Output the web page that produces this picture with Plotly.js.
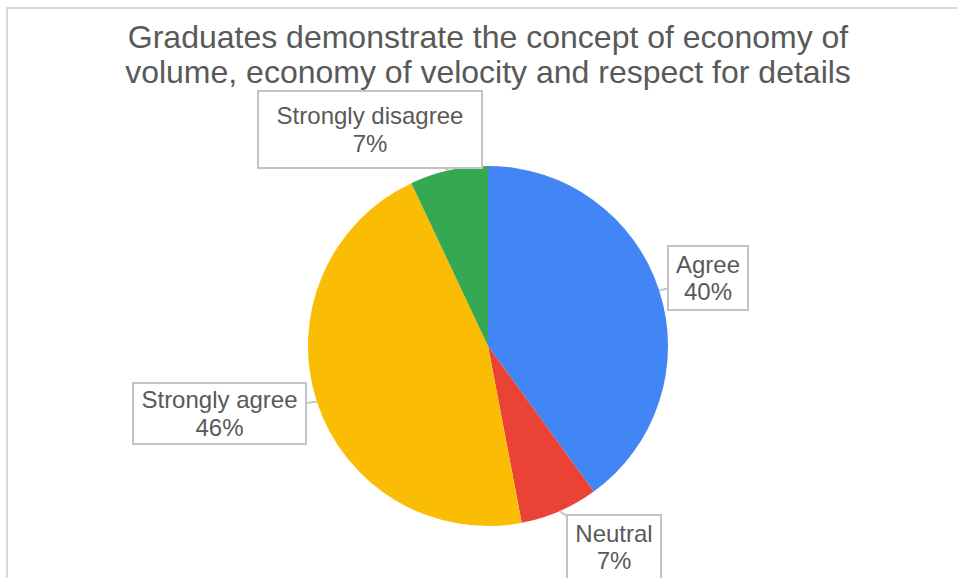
<!DOCTYPE html>
<html>
<head>
<meta charset="utf-8">
<script src="https://cdn.plot.ly/plotly-3.0.1.min.js"></script>
<style>
  html, body { margin: 0; padding: 0; background: #ffffff; }
  #chart { position: absolute; left: 0; top: 0; width: 957px; height: 578px; }
  #frame { position: absolute; left: 6px; top: 7px; width: 1000px; height: 700px;
           border-top: 2px solid #d9d9d9; border-left: 2px solid #d9d9d9;
           pointer-events: none; z-index: 5; }
</style>
</head>
<body>
<div id="chart"></div>
<div id="frame"></div>
<script>
// ---- data ----
const categories = ["Agree", "Neutral", "Strongly agree", "Strongly disagree"];
const percentValues = [40, 7, 46, 7];
const percentLabels = ["40%", "7%", "46%", "7%"];
const sliceColors = ["#4285F4", "#EA4335", "#FBBC04", "#34A853"];
const titleLines = ["Graduates demonstrate the concept of economy of",
                    "volume, economy of velocity and respect for details"];

// ---- layout / style constants ----
const W = 957, H = 578;
const CX = 488, CY = 346, R = 180;                 // pie centre & radius (px)
const labelOffsets = [[49, -12], [55, 36], [-97, 12], [-79, -41]]; // box offset from slice edge (px)
const boxSizes = [[78, 62], [92, 62], [171, 59], [222, 75]];       // label box sizes (px)
const textColor = "#595959";
const fontFamily = "'Liberation Sans', Arial, Helvetica, sans-serif";

const domainX = [(CX - R) / W, (CX + R) / W];
const domainY = [1 - (CY + R) / H, 1 - (CY - R) / H];

const trace = {
  type: "pie",
  labels: categories,
  values: percentValues,
  sort: false,
  direction: "clockwise",
  rotation: 0,
  textinfo: "none",
  hoverinfo: "label+percent",
  marker: { colors: sliceColors, line: { width: 0 } },
  domain: { x: domainX, y: domainY },
  showlegend: false
};

const big = (s, px) => '<span style="font-size:' + px + 'px">' + s + '</span>';

// annotation positions derived from the slice angles
const total = percentValues.reduce((a, b) => a + b, 0);
let cum = 0;
const annotations = categories.map((cat, i) => {
  const start = cum / total * 2 * Math.PI;
  cum += percentValues[i];
  const end = cum / total * 2 * Math.PI;
  const mid = (start + end) / 2;
  const px = CX + R * Math.sin(mid);
  const py = CY - R * Math.cos(mid);
  return {
    xref: "paper", yref: "paper",
    x: px / W, y: 1 - py / H,
    text: big(cat, 24) + "<br>" + big(percentLabels[i], 24),
    showarrow: true,
    arrowhead: 0,
    arrowwidth: 2,
    arrowcolor: "#c4c4c4",
    standoff: 0,
    ax: labelOffsets[i][0],
    ay: labelOffsets[i][1],
    width: boxSizes[i][0],
    height: boxSizes[i][1],
    align: "center",
    valign: "middle",
    bgcolor: "#ffffff",
    bordercolor: "#c4c4c4",
    borderwidth: 2,
    borderpad: 0,
    font: { family: fontFamily, size: 21, color: textColor }
  };
});

const layout = {
  width: W,
  height: H,
  margin: { l: 0, r: 0, t: 0, b: 0 },
  paper_bgcolor: "#ffffff",
  plot_bgcolor: "#ffffff",
  title: {
    text: titleLines.map(s => big(s, 32)).join("<br>"),
    font: { family: fontFamily, size: 27, color: textColor },
    x: CX / W,
    xanchor: "center",
    xref: "paper",
    yref: "container",
    y: 1 - 48 / H,
    yanchor: "top"
  },
  annotations: annotations
};

Plotly.newPlot("chart", [trace], layout, { displayModeBar: false, staticPlot: true });
</script>
</body>
</html>
